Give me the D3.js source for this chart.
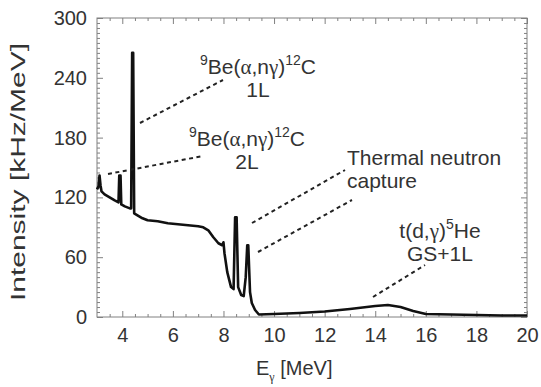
<!DOCTYPE html>
<html>
<head>
<meta charset="utf-8">
<script src="https://cdn.jsdelivr.net/npm/d3@7"></script>
<style>
  body { margin: 0; background: #fff; }
  text { font-family: "Liberation Sans", Arial, sans-serif; fill: #333; }
</style>
</head>
<body>
<div id="vis"></div>
<script>
const width = 541;
const height = 387;

// spectrum: E_gamma [MeV] and intensity [kHz/MeV]
const energy = [3.00, 3.06, 3.10, 3.14, 3.18, 3.30, 3.50, 3.70, 3.85, 3.88, 3.93, 3.96, 4.10, 4.30, 4.35, 4.39, 4.43, 4.47,
	4.60, 4.80, 5.00, 5.40, 5.80, 6.20, 6.60, 7.00, 7.20, 7.40, 7.60, 7.80, 7.95, 8.00, 8.04, 8.15, 8.30, 8.40,
	8.46, 8.52, 8.58, 8.70, 8.80, 8.88, 8.94, 8.98, 9.05, 9.12, 9.25, 9.40, 10, 11, 12, 13, 13.5, 14, 14.5,
	15, 15.5, 16, 17, 18, 19, 20];
const intensity = [128, 131, 142, 132, 126, 123, 120, 117, 115, 142, 142, 113, 111, 109, 109, 265, 265, 104,
	102, 99, 97, 96, 94, 93, 92, 91, 90, 87, 80, 74, 72, 75, 64, 45, 30, 28,
	100, 100, 30, 22, 21, 40, 72, 72, 25, 14, 7, 2.5, 3, 4, 5.5, 8, 9.5, 11, 12,
	10, 6, 3, 2.5, 2, 1.5, 1.5];

const xTicks = [4, 6, 8, 10, 12, 14, 16, 18, 20];
const yTicks = [0, 60, 120, 180, 240, 300];

const margin = {top: 18, right: 14, bottom: 70, left: 97};

const svg = d3.select("#vis")
	.append("svg")
	.attr("width", width)
	.attr("height", height);

const x = d3.scaleLinear()
	.domain([3, 20])
	.range([margin.left, width - margin.right]);

const y = d3.scaleLinear()
	.domain([0, 300])
	.range([height - margin.bottom, margin.top]);

const frameColor = "#808080";

// inward ticks on all four sides, major + minor
const minorX = d3.range(3.5, 20, 0.5).filter(v => !xTicks.includes(v));
const minorY = d3.range(5, 300, 5).filter(v => !yTicks.includes(v));

function tickAxis(axisFn, scale, values, size, pos) {
	const g = svg.append("g")
		.attr("transform", pos)
		.call(axisFn(scale).tickValues(values).tickSize(size).tickFormat(""));
	g.select(".domain").remove();
	g.selectAll("line").attr("stroke", frameColor);
	return g;
}

tickAxis(d3.axisTop, x, xTicks, 6, `translate(0,${y(0)})`);
tickAxis(d3.axisTop, x, minorX, 3, `translate(0,${y(0)})`);
tickAxis(d3.axisBottom, x, xTicks, 6, `translate(0,${y(300)})`);
tickAxis(d3.axisBottom, x, minorX, 3, `translate(0,${y(300)})`);
tickAxis(d3.axisRight, y, yTicks, 6, `translate(${x(3)},0)`);
tickAxis(d3.axisRight, y, minorY, 3, `translate(${x(3)},0)`);
tickAxis(d3.axisLeft, y, yTicks, 6, `translate(${x(20)},0)`);
tickAxis(d3.axisLeft, y, minorY, 3, `translate(${x(20)},0)`);

svg.append("rect")
	.attr("x", x(3))
	.attr("y", y(300))
	.attr("width", x(20) - x(3))
	.attr("height", y(0) - y(300))
	.attr("fill", "none")
	.attr("stroke", frameColor);

// tick labels
const xLab = svg.append("g")
	.attr("transform", `translate(0,${y(0)})`)
	.call(d3.axisBottom(x).tickValues(xTicks).tickSize(0).tickPadding(11));
xLab.select(".domain").remove();
xLab.selectAll("text")
	.attr("font-size", 20)
	.attr("fill", "#333")
	.attr("font-family", "Liberation Sans, Arial, sans-serif");

const yLab = svg.append("g")
	.attr("transform", `translate(${x(3)},0)`)
	.call(d3.axisLeft(y).tickValues(yTicks).tickSize(0).tickPadding(10));
yLab.select(".domain").remove();
yLab.selectAll("text")
	.attr("font-size", 20)
	.attr("fill", "#333")
	.attr("font-family", "Liberation Sans, Arial, sans-serif");

// axis titles
const xt = svg.append("text")
	.attr("x", 256)
	.attr("y", 375)
	.attr("font-size", 20);
xt.append("tspan").text("E");
xt.append("tspan").attr("font-size", 12).attr("dy", 6).attr("font-family", "Liberation Serif, serif").text("γ");
xt.append("tspan").attr("dy", -6).text(" [MeV]");

svg.append("text")
	.attr("transform", `translate(25,${172}) rotate(-90)`)
	.attr("text-anchor", "middle")
	.attr("font-size", 21)
	.attr("textLength", 258)
	.attr("lengthAdjust", "spacingAndGlyphs")
	.text("Intensity [kHz/MeV]");

// spectrum
const line = d3.line()
	.x((d, i) => x(energy[i]))
	.y(d => y(d));

svg.append("path")
	.datum(intensity)
	.attr("d", line)
	.attr("fill", "none")
	.attr("stroke", "#111")
	.attr("stroke-width", 2.6)
	.attr("stroke-linejoin", "round");

// leader lines
const leaders = [
	[[140, 123], [223, 80]],
	[[108, 174], [203, 156]],
	[[252, 223], [345, 170]],
	[[258, 252], [352, 200]],
	[[373, 297], [425, 265]]
];
svg.selectAll("line.leader")
	.data(leaders)
	.enter()
	.append("line")
	.classed("leader", true)
	.attr("x1", d => d[0][0])
	.attr("y1", d => d[0][1])
	.attr("x2", d => d[1][0])
	.attr("y2", d => d[1][1])
	.attr("stroke", "#222")
	.attr("stroke-width", 2)
	.attr("stroke-dasharray", "4,3.5");

// annotations
function beLabel(cx, base, second) {
	const t = svg.append("text")
		.attr("x", cx)
		.attr("y", base)
		.attr("text-anchor", "middle")
		.attr("font-size", 21);
	t.append("tspan").attr("font-size", 14).attr("dy", -9).text("9");
	t.append("tspan").attr("dy", 9).text("Be(");
	t.append("tspan").attr("font-family", "Liberation Serif, serif").text("α");
	t.append("tspan").text(",n");
	t.append("tspan").attr("font-family", "Liberation Serif, serif").text("γ");
	t.append("tspan").text(")");
	t.append("tspan").attr("font-size", 14).attr("dy", -9).text("12");
	t.append("tspan").attr("dy", 9).text("C");
	svg.append("text")
		.attr("x", cx)
		.attr("y", base + 23)
		.attr("text-anchor", "middle")
		.attr("font-size", 21)
		.text(second);
}
beLabel(258, 74, "1L");
beLabel(247, 146, "2L");

svg.append("text").attr("x", 347).attr("y", 165).attr("font-size", 21).text("Thermal neutron");
svg.append("text").attr("x", 347).attr("y", 188).attr("font-size", 21).text("capture");

const td = svg.append("text")
	.attr("x", 440)
	.attr("y", 238)
	.attr("text-anchor", "middle")
	.attr("font-size", 21);
td.append("tspan").text("t(d,");
td.append("tspan").attr("font-family", "Liberation Serif, serif").text("γ");
td.append("tspan").text(")");
td.append("tspan").attr("font-size", 14).attr("dy", -9).text("5");
td.append("tspan").attr("dy", 9).text("He");
svg.append("text").attr("x", 440).attr("y", 261).attr("text-anchor", "middle").attr("font-size", 21).text("GS+1L");
</script>
</body>
</html>
